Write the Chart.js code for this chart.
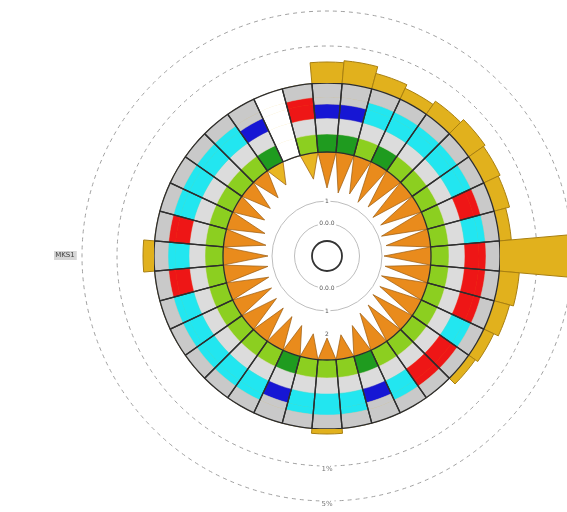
<!DOCTYPE html>
<html><head><meta charset="utf-8">
<script src="https://cdn.jsdelivr.net/npm/chart.js"></script>
<style>
html,body{margin:0;padding:0;background:#fff;overflow:hidden;}
#stage{position:relative;width:567px;height:512px;overflow:hidden;background:#fff;}
canvas{position:absolute;}
#polar{left:54px;top:-17px;}
#spikes{left:223px;top:152px;background:#fff;border-radius:50%;}
#rings,#cells{left:154px;top:83px;}
</style></head><body>
<div id="stage">
<canvas id="polar" width="546" height="546"></canvas>
<canvas id="spikes" width="208" height="208"></canvas>
<canvas id="rings" width="346" height="346"></canvas>
<canvas id="cells" width="346" height="346"></canvas>
</div>
<script>
// ---------- data ----------
const segments = ['S01','S02','S03','S04','S05','S06','S07','S08','S09','S10','S11','S12',
  'S13','S14','S15','S16','S17','S18','S19','S20','S21','S22','S23','S24',
  'S25','S26','S27','S28','S29','S30','S31','S32','S33','S34','S35','S36'];

// outer bars (height beyond the ring)
const barValues = [21,23,16,12,16,20,18,16,12,100,20,16,11,8,0,0,0,0,5,0,0,0,0,0,0,0,0,11,0,0,0,0,0,0,0,0];

// ring categories (G gray, W none, B blue, C cyan, R red, L light, g light green, d dark green)
const outerRing = ['G','G','G','G','G','G','G','G','G','G','G','G','G','G','G','G','G','G',
                   'G','G','G','G','G','G','G','G','G','G','G','G','G','G','G','G','W','G'];
const bandRing  = ['B','B','C','C','C','C','C','R','C','R','R','R','C','R','R','C','B','C',
                   'C','C','B','C','C','C','C','C','R','C','R','C','C','C','C','B','W','R'];
const lightRing = ['L','L','L','L','L','L','L','L','L','L','L','L','L','L','L','L','L','L',
                   'L','L','L','L','L','L','L','L','L','L','L','L','L','L','L','L','W','L'];
const greenRing = ['d','d','g','d','g','g','g','g','g','g','g','g','g','g','g','g','d','g',
                   'g','g','d','g','g','g','g','g','g','g','g','g','g','g','g','d','W','g'];

// inward spikes
const spikeDepth = [36,40,38,42,40,44,42,46,44,47,45,46,43,44,40,38,30,24,
                    22,25,30,34,36,38,40,42,44,45,42,38,32,30,28,22,0,26];
const spikeKind  = ['O','O','O','O','O','O','O','O','O','O','O','O','O','O','O','O','O','O',
                    'O','O','O','O','O','O','O','O','O','O','O','O','O','O','O','Y','O','Y'];

// scale ticks
const outerTicks = [37, 72];
const outerTickLabels = ['1%', '5%'];
const trackLabel = 'MKS1';
const innerTicks = [0, 26, 49, 71.5, 89];
const innerTickTop = ['', '', '1', '0.0.0', ''];
const innerTickBottom = ['', '2', '1', '0.0.0', ''];

// ---------- styles ----------
const palette = {G:'#c9c9c9', W:'#ffffff', B:'#1616d4', C:'#22e6f0', R:'#ee1616',
                 L:'#dcdcdc', g:'#8ccf20', d:'#1f9b1f'};
const spikeColor = {O:'#e98b1c', Y:'#e8b622'};
const ones = segments.map(() => 1);
const common = {responsive:false, animation:false, events:[],
  plugins:{legend:{display:false}, tooltip:{enabled:false}}};

// ---------- polar bars + dashed circles ----------
const outerLabelPlugin = {
  id:'outerLabels',
  afterDraw(chart){
    const s = chart.scales.r, ctx = chart.ctx;
    ctx.save();
    ctx.font = '7px "DejaVu Sans"';
    ctx.textAlign = 'center'; ctx.textBaseline = 'middle';
    outerTicks.forEach((v, k) => {
      const y = s.yCenter + s.getDistanceFromCenterForValue(v) + 3;
      const w = ctx.measureText(outerTickLabels[k]).width;
      ctx.fillStyle = '#fff'; ctx.fillRect(s.xCenter - w/2 - 2, y - 5, w + 4, 10);
      ctx.fillStyle = '#777'; ctx.fillText(outerTickLabels[k], s.xCenter, y);
    });
    const x = s.xCenter - s.getDistanceFromCenterForValue(89);
    const w = ctx.measureText(trackLabel).width;
    ctx.fillStyle = '#d6d6d6'; ctx.fillRect(x - w/2 - 2, s.yCenter - 5, w + 4, 9);
    ctx.fillStyle = '#444'; ctx.fillText(trackLabel, x, s.yCenter - 0.5);
    ctx.restore();
  }
};
new Chart(document.getElementById('polar'), {
  type:'polarArea',
  data:{labels:segments, datasets:[{data:barValues, backgroundColor:'#e1b11d',
        borderColor:'#a87f10', borderWidth:1}]},
  options:Object.assign({}, common, {
    scales:{r:{min:-173, max:100, startAngle:-5,
      angleLines:{display:false}, pointLabels:{display:false}, ticks:{display:false},
      grid:{circular:true, color:'#a0a0a0', lineWidth:1},
      border:{dash:[4,4]},
      afterBuildTicks:(s) => { s.ticks = outerTicks.map(v => ({value:v})); }
    }}
  }),
  plugins:[outerLabelPlugin]
});

// ---------- spikes (radar) ----------
function interleave(vals){ const out = []; vals.forEach(v => out.push(v, 0)); return out; }
const spikeLabels = []; segments.forEach(s => spikeLabels.push(s, ''));
const innerLabelPlugin = {
  id:'innerLabels',
  afterDraw(chart){
    const s = chart.scales.r, ctx = chart.ctx;
    ctx.save();
    ctx.font = '6px "DejaVu Sans"';
    ctx.textAlign = 'center'; ctx.textBaseline = 'middle';
    innerTicks.forEach((v, k) => {
      const d = s.getDistanceFromCenterForValue(v);
      [[innerTickTop[k], -d], [innerTickBottom[k], d]].forEach(([t, off]) => {
        if (!t) return;
        const w = ctx.measureText(t).width;
        ctx.fillStyle = '#fff'; ctx.fillRect(s.xCenter - w/2 - 1.5, s.yCenter + off - 4, w + 3, 8);
        ctx.fillStyle = '#555'; ctx.fillText(t, s.xCenter, s.yCenter + off);
      });
    });
    ctx.restore();
  }
};
const spikeDatasets = ['O','Y'].map(kind => ({
  data: interleave(spikeDepth.map((v, i) => spikeKind[i] === kind ? v : 0)),
  backgroundColor: spikeColor[kind], borderColor:'#9a5a0e', borderWidth:0.7,
  fill:{value:0}, pointRadius:0, tension:0
}));
new Chart(document.getElementById('spikes'), {
  type:'radar',
  data:{labels:spikeLabels, datasets:spikeDatasets},
  options:Object.assign({}, common, {
    scales:{r:{min:0, max:104, reverse:true,
      angleLines:{display:false}, pointLabels:{display:false}, ticks:{display:false},
      grid:{circular:true,
        color:(c) => (c.tick && c.tick.value === 89) ? '#333' : (c.tick && c.tick.value === 26 ? 'rgba(0,0,0,0)' : '#bdbdbd'),
        lineWidth:(c) => (c.tick && c.tick.value === 89) ? 1.8 : 1},
      afterBuildTicks:(s) => { s.ticks = innerTicks.map(v => ({value:v})); }
    }}
  }),
  plugins:[innerLabelPlugin]
});

// ---------- rings (doughnut) ----------
const cutoutPct = (104 / 173 * 100) + '%';
const ringDataset = (codes, weight) => ({data:ones, weight,
  backgroundColor: codes.map(c => palette[c]), borderColor: codes.map(c => palette[c]), borderWidth:0.5});
new Chart(document.getElementById('rings'), {
  type:'doughnut',
  data:{labels:segments, datasets:[
    ringDataset(outerRing, 14),
    ringDataset(bandRing.map(c => c === 'B' ? 'G' : c), 7),
    ringDataset(bandRing, 14),
    ringDataset(lightRing, 16),
    ringDataset(greenRing, 18)
  ]},
  options:Object.assign({}, common, {rotation:-5, radius:173, cutout:cutoutPct})
});

// ---------- cell outlines ----------
new Chart(document.getElementById('cells'), {
  type:'doughnut',
  data:{labels:segments, datasets:[{data:ones, backgroundColor:'rgba(0,0,0,0)',
        borderColor:'#2e2e2e', borderWidth:1.3}]},
  options:Object.assign({}, common, {rotation:-5, radius:173, cutout:cutoutPct})
});
</script>
</body></html>
